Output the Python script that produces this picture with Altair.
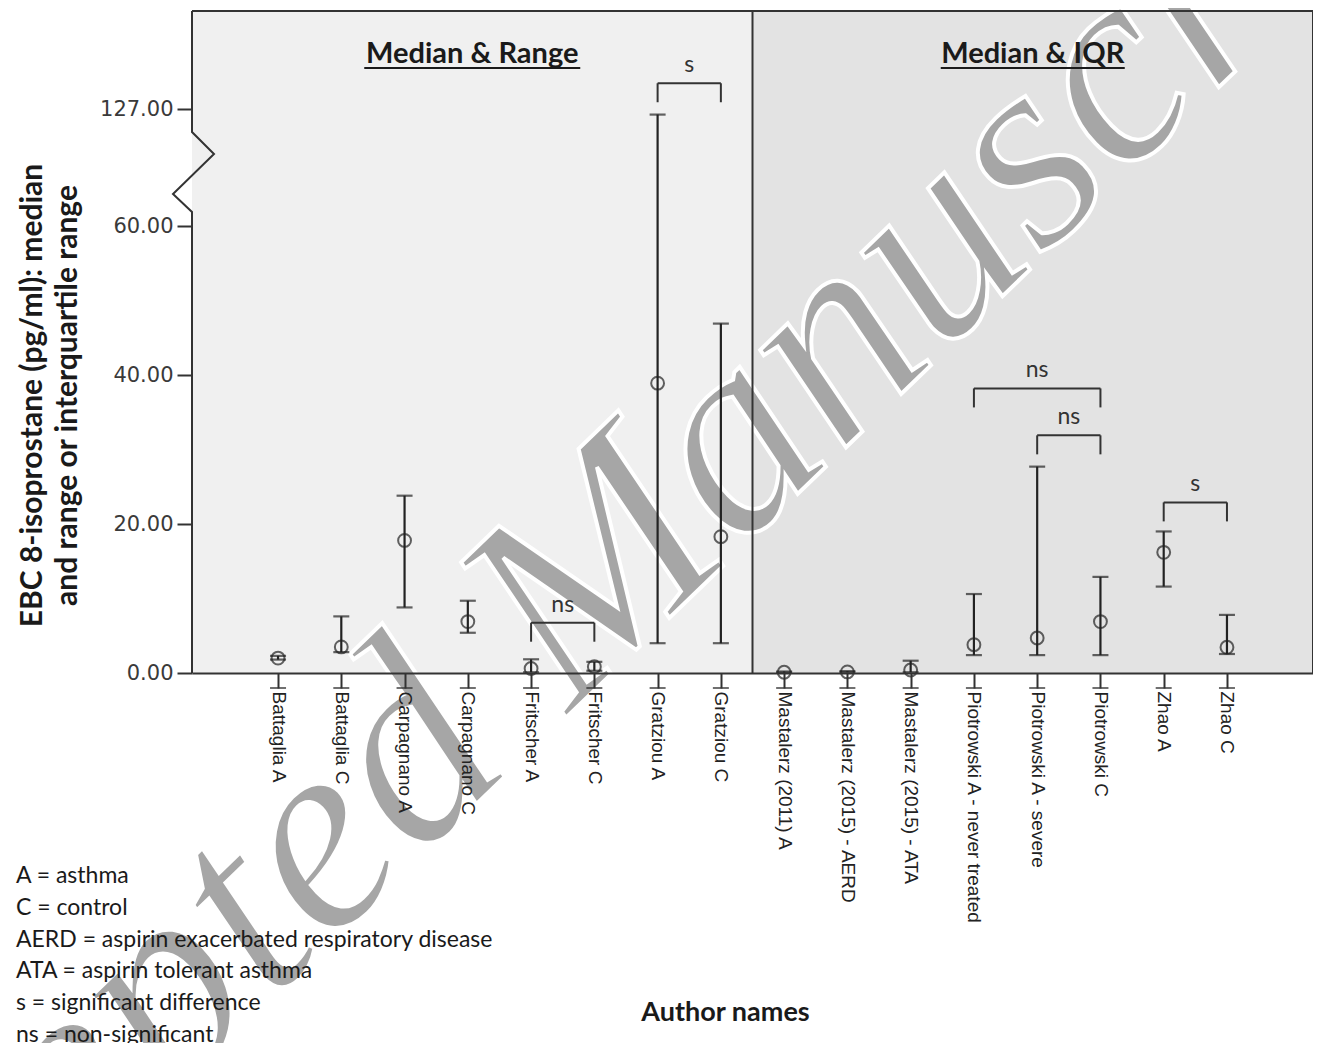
import altair as alt
import pandas as pd

# ---------------- data ----------------
names = ["Battaglia A", "Battaglia C", "Carpagnano A", "Carpagnano C",
         "Fritscher A", "Fritscher C", "Gratziou A", "Gratziou C",
         "Mastalerz (2011) A", "Mastalerz (2015) - AERD", "Mastalerz (2015) - ATA",
         "Piotrowski A - never treated", "Piotrowski A - severe", "Piotrowski C",
         "Zhao A", "Zhao C"]
median = [2.0, 3.5, 17.8, 6.9, 0.6, 0.85, 38.9, 18.3, 0.1, 0.15, 0.4, 3.8, 4.7, 6.9, 16.2, 3.45]
low    = [1.8, 2.8, 8.8, 5.4, 0.1, 0.3, 4.0, 4.0, 0.05, 0.1, 0.1, 2.4, 2.4, 2.4, 11.6, 2.55]
high   = [2.3, 7.6, 23.8, 9.7, 1.84, 1.5, 124.0, 46.9, 0.2, 0.25, 1.65, 10.6, 27.7, 12.9, 19.0, 7.8]

panel_titles = ["Median & Range", "Median & IQR"]
panel_sizes = [8, 8]
panel_fills = ["#f0f0f0", "#e3e3e3"]

br_left  = ["Fritscher A", "Gratziou A", "Piotrowski A - never treated", "Piotrowski A - severe", "Zhao A"]
br_right = ["Fritscher C", "Gratziou C", "Piotrowski C", "Piotrowski C", "Zhao C"]
br_top   = [6.75, 142.0, 38.2, 31.9, 22.9]
br_label = ["ns", "s", "ns", "ns", "s"]

y_ticks = [0, 20, 40, 60, 127]
y_title = ["EBC 8-isoprostane (pg/ml): median", "and range or interquartile range"]
x_title = "Author names"
legend_lines = ["A = asthma", "C = control", "AERD = aspirin exacerbated respiratory disease",
                "ATA = aspirin tolerant asthma", "s = significant difference", "ns = non-significant"]
watermark = "Accepted Manuscript"

# ---------------- layout ----------------
W, H = 1121, 662
pad = 1.36
xmin, xmax = -pad, len(names) - 1 + pad
step = W / (xmax - xmin)
xscale = alt.Scale(domain=[xmin, xmax], nice=False, zero=False)
Y_TOP = 183.5
yscale = alt.Scale(domain=[0, 60, Y_TOP], range=[H, 215, 0], nice=False, zero=False)

label_expr = "[" + ",".join("'" + n + "'" for n in names) + "][datum.value]"
x_axis = alt.Axis(values=list(range(len(names))), labelExpr=label_expr, labelAngle=90,
                  labelAlign="left", labelBaseline="middle", labelFont="Liberation Sans",
                  labelFontSize=19, labelColor="#222222", labelPadding=3, labelLimit=500,
                  tickSize=15, tickWidth=2, tickColor="#333333", domainWidth=2,
                  domainColor="#333333", grid=False, title=x_title, titleFont="Lato",
                  titleFontWeight="bold", titleFontSize=27, titleColor="#1a1a1a",
                  titleX=533, titleY=339, titleAlign="center", titleBaseline="middle",
                  zindex=1)
y_axis = alt.Axis(values=y_ticks, format=".2f", labelFont="DejaVu Sans", labelFontSize=21,
                  labelColor="#3a3a3a", labelPadding=4, tickSize=15, tickWidth=2,
                  tickColor="#333333", domain=False, grid=False, title=y_title,
                  titleFont="Lato", titleFontWeight="bold", titleFontSize=30,
                  titleColor="#1a1a1a", titleX=-160, titleY=384, titleAngle=270,
                  titleAlign="center", titleBaseline="middle", titleLineHeight=35,
                  titleLimit=800, zindex=1)

def X(f):
    return alt.X(f, type="quantitative", scale=xscale, axis=x_axis)

def Y(f):
    return alt.Y(f, type="quantitative", scale=yscale, axis=y_axis)

df = pd.DataFrame({"idx": list(range(len(names))), "name": names,
                   "median": median, "low": low, "high": high})

# panels
starts, ends, centers = [], [], []
pos = 0
for i, n in enumerate(panel_sizes):
    s = xmin if i == 0 else pos - 0.5
    e = xmax if i == len(panel_sizes) - 1 else pos + n - 0.5
    starts.append(s); ends.append(e); centers.append((s + e) / 2)
    pos += n
ul_half_px = [108, 92]
panels = pd.DataFrame({"title": panel_titles, "start": starts, "end": ends, "center": centers,
                       "fill": panel_fills,
                       "ul0": [c - h / step for c, h in zip(centers, ul_half_px)],
                       "ul1": [c + h / step for c, h in zip(centers, ul_half_px)]})
divider = pd.DataFrame({"x": ends[:-1]})

idx_of = {n: i for i, n in enumerate(names)}
br = pd.DataFrame({"l": [idx_of[n] for n in br_left], "r": [idx_of[n] for n in br_right],
                   "top": br_top, "label": br_label})
br["mid"] = (br["l"] + br["r"]) / 2
legs = pd.concat([br[["l", "top"]].rename(columns={"l": "x"}),
                  br[["r", "top"]].rename(columns={"r": "x"})])

one = pd.DataFrame({"k": [0]})

bg = alt.Chart(panels).mark_rect().encode(
    x=X("start"), x2="end", y=alt.value(0), y2=alt.value(H),
    color=alt.Color("fill:N", scale=None))

wm = alt.Chart(pd.DataFrame({"t": [watermark]})).mark_text(
    font="Liberation Serif", fontStyle="italic", fontSize=282, angle=316,
    align="center", baseline="middle", fill="#a6a6a6", stroke="white", strokeWidth=4
).encode(text="t:N", x=alt.value(388), y=alt.value(575))

div = alt.Chart(divider).mark_rule(color="#333333", strokeWidth=2).encode(
    x=X("x"), y=alt.value(0), y2=alt.value(H))

top_border = alt.Chart(one).mark_rule(color="#333333", strokeWidth=2).encode(
    x=alt.value(0), x2=alt.value(W), y=alt.value(0))
right_border = alt.Chart(one).mark_rule(color="#333333", strokeWidth=2).encode(
    x=alt.value(W), y=alt.value(0), y2=alt.value(H))

# left axis line with break glyph (pixel coordinates of the plot frame)
zig = pd.DataFrame({"o": [0, 1, 2, 3, 4, 5],
                    "px": [0, 0, 22, -19, 0, 0],
                    "py": [0, 121, 143, 183, 201, H]})
left_line = alt.Chart(zig).mark_line(color="#333333", strokeWidth=2).encode(
    x=alt.X("px:Q", scale=None), y=alt.Y("py:Q", scale=None), order="o:Q")

tick_bars = alt.Chart(df).mark_tick(orient="horizontal", size=16, thickness=2,
                                    color="#333333", yOffset=15).encode(
    x=X("idx"), y=alt.value(H))

err = alt.Chart(df).mark_rule(color="#222222", strokeWidth=2.2).encode(
    x=X("idx"), y=Y("low"), y2="high")
cap_lo = alt.Chart(df).mark_tick(orient="horizontal", size=16, thickness=2.2,
                                 color="#222222").encode(x=X("idx"), y=Y("low"))
cap_hi = alt.Chart(df).mark_tick(orient="horizontal", size=16, thickness=2.2,
                                 color="#222222").encode(x=X("idx"), y=Y("high"))
pts = alt.Chart(df).mark_point(shape="circle", filled=False, size=165, strokeWidth=2,
                               color="#222222").encode(x=X("idx"), y=Y("median"))

br_h = alt.Chart(br).mark_rule(color="#333333", strokeWidth=2).encode(
    x=X("l"), x2="r", y=Y("top"))
br_v = alt.Chart(legs).mark_rule(color="#333333", strokeWidth=2, y2Offset=19).encode(
    x=X("x"), y=Y("top"), y2="top")
br_t = alt.Chart(br).mark_text(font="Lato", fontSize=23, color="#333333",
                               baseline="alphabetic", dy=-11).encode(
    x=X("mid"), y=Y("top"), text="label:N")

ptitle = alt.Chart(panels).mark_text(font="Lato", fontWeight="bold", fontSize=29,
                                     color="#1a1a1a", baseline="middle").encode(
    x=X("center"), y=alt.value(43), text="title:N")
puline = alt.Chart(panels).mark_rule(color="#1a1a1a", strokeWidth=2).encode(
    x=X("ul0"), x2="ul1", y=alt.value(57))

legend = alt.Chart(one).mark_text(font="Lato", fontSize=23, color="#1a1a1a", align="left",
                                  baseline="middle", lineHeight=31.8).encode(
    x=alt.value(-176), y=alt.value(865), text=alt.value(legend_lines))

chart = alt.layer(
    bg, wm, div, top_border, right_border, left_line, tick_bars,
    err, cap_lo, cap_hi, pts, br_h, br_v, br_t, ptitle, puline, legend
).properties(
    width=W, height=H,
    autosize=alt.AutoSizeParams(type="none"),
    padding={"left": 184, "top": 3, "right": 0, "bottom": 370}
).configure_view(stroke=None).configure(background="white")

chart.save("out.html", embed_options={"renderer": "svg", "actions": False})
